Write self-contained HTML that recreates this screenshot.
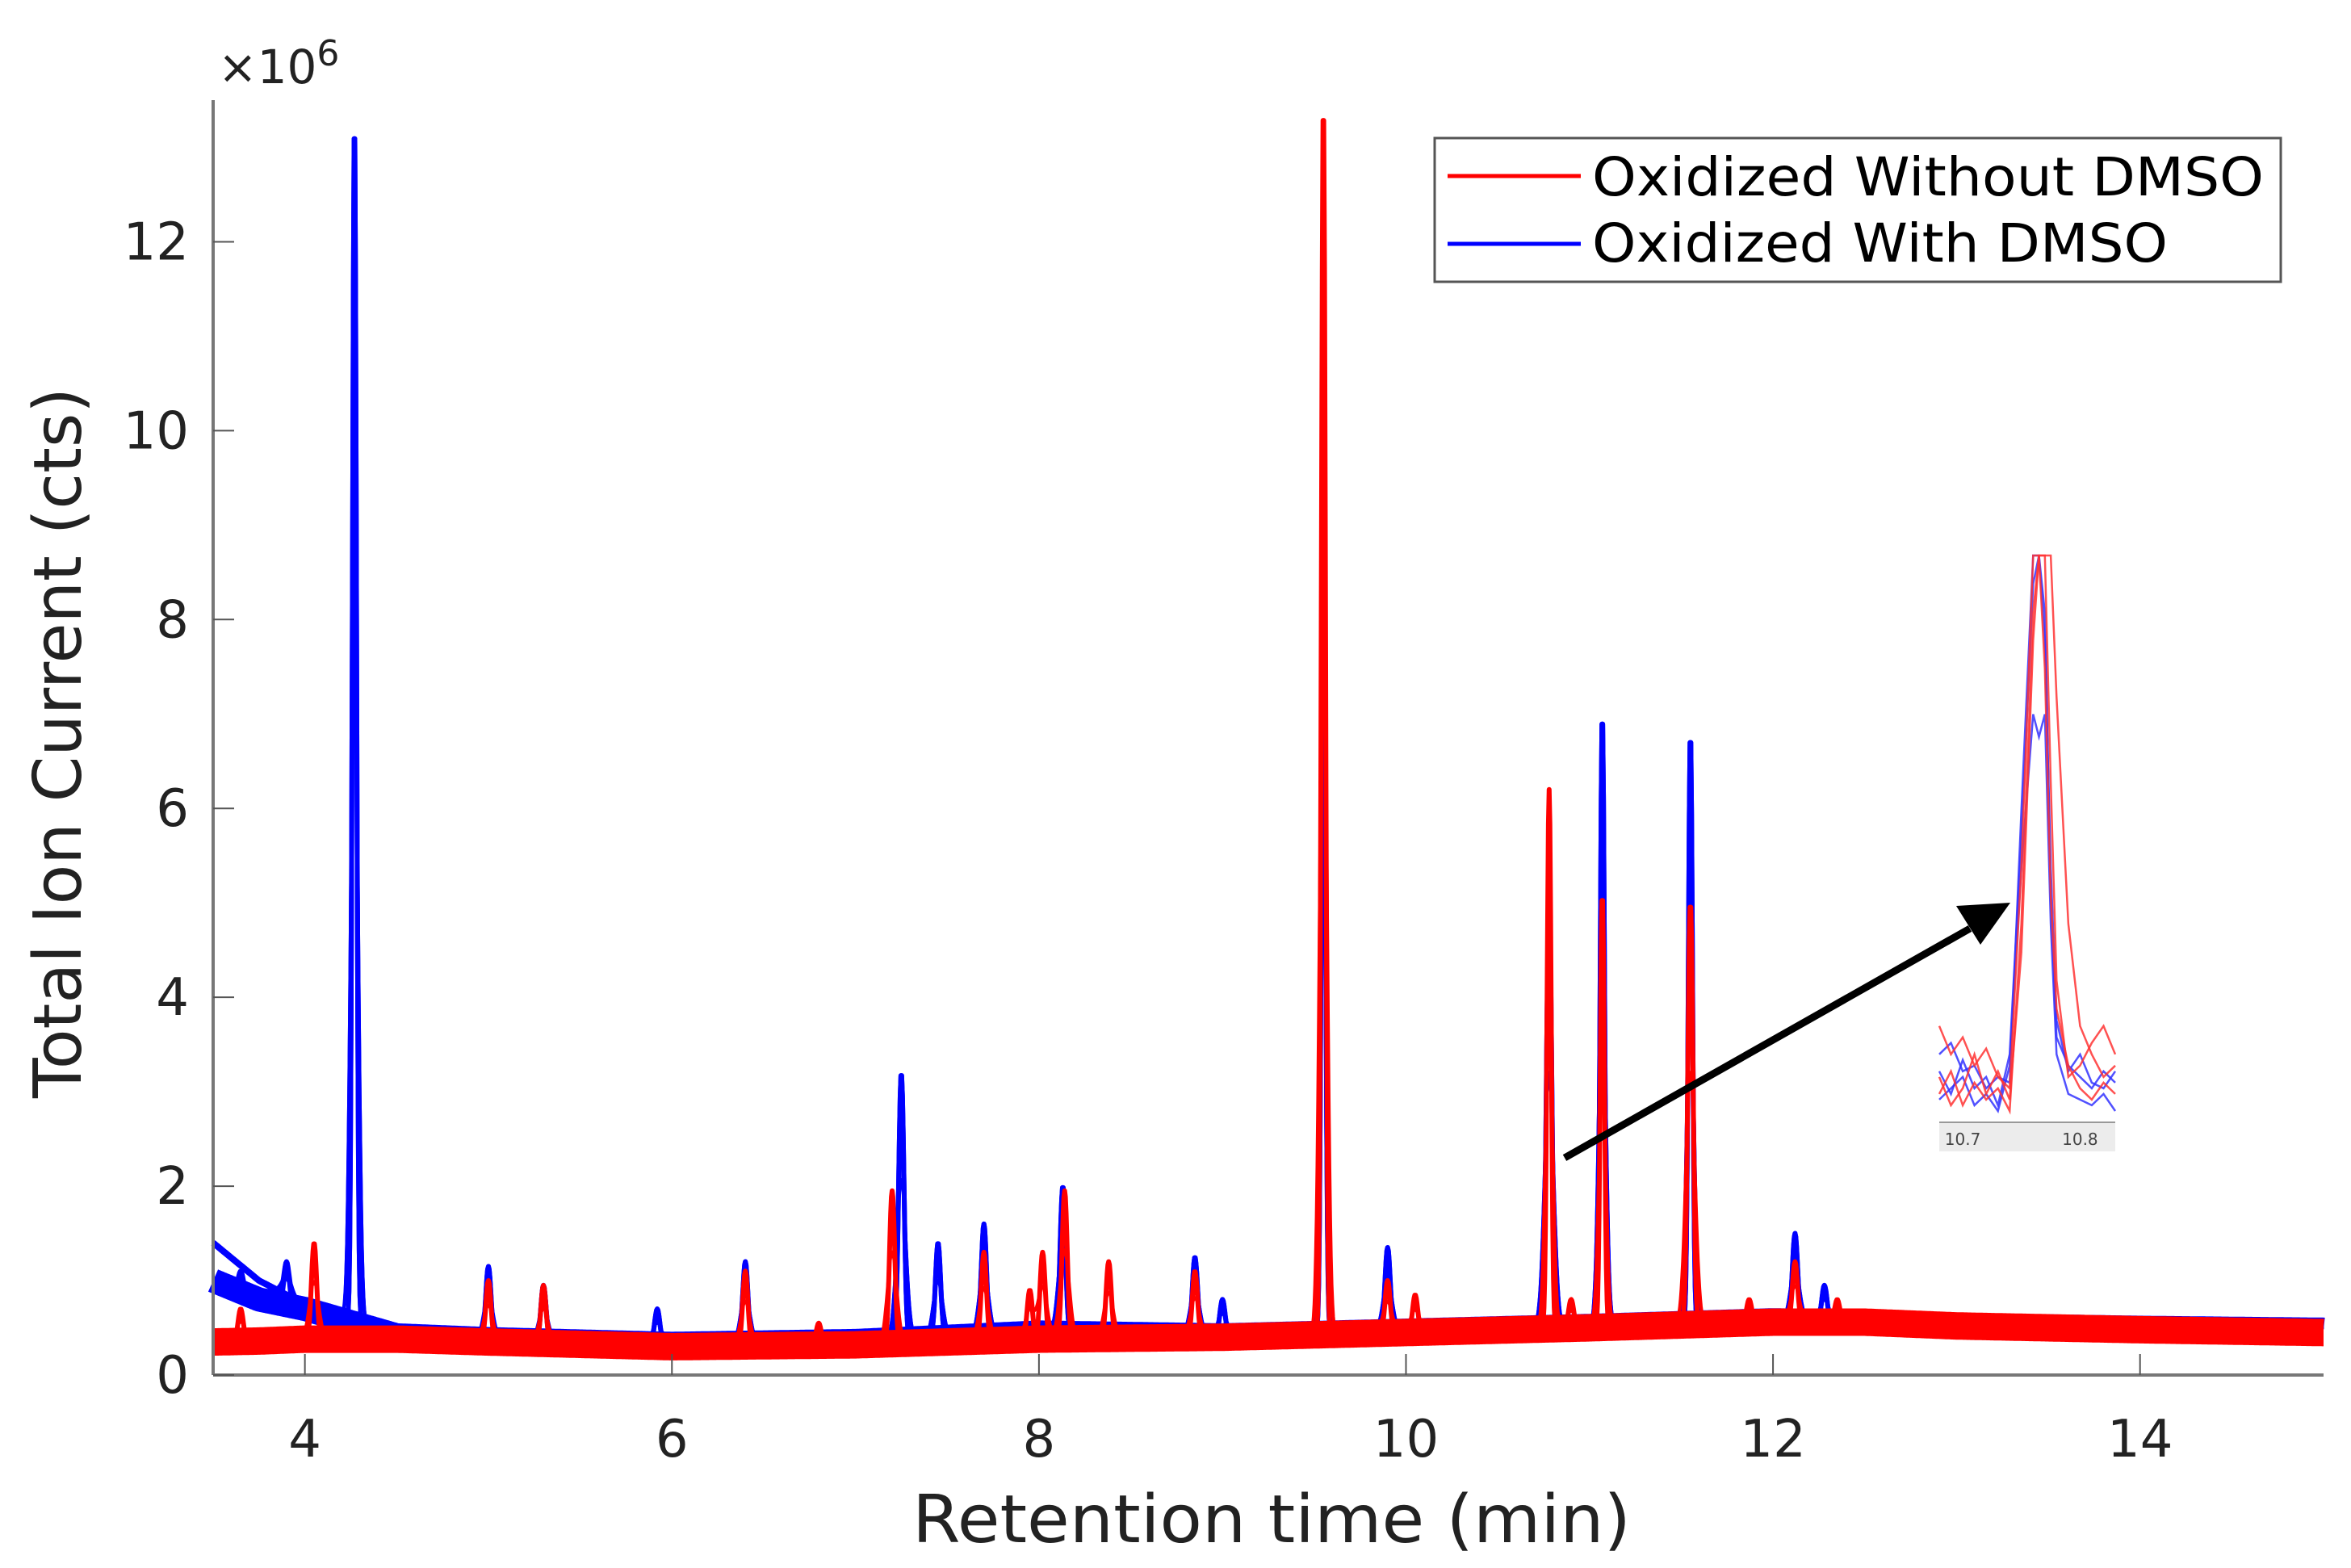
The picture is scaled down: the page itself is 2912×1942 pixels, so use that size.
<!DOCTYPE html>
<html><head><meta charset="utf-8"><title>TIC chromatogram</title>
<style>
html,body{margin:0;padding:0;background:#fff;}
svg{display:block;font-family:"DejaVu Sans","Liberation Sans",sans-serif;}
</style></head>
<body>
<svg id="chart" width="2912" height="1942" viewBox="0 0 2912 1942" xmlns="http://www.w3.org/2000/svg">
<rect width="2912" height="1942" fill="#fff"/>
<g id="plot"></g>
<g id="axes"></g>
<g id="inset"></g>
<g>
  <rect x="1777" y="171" width="1048" height="178" fill="#fff" stroke="#555" stroke-width="3"/>
  <line x1="1793" y1="218" x2="1958" y2="218" stroke="#ff0000" stroke-width="5"/>
  <text x="1972" y="242" font-size="66" textLength="832" lengthAdjust="spacingAndGlyphs" fill="#000">Oxidized Without DMSO</text>
  <line x1="1793" y1="302" x2="1958" y2="302" stroke="#0000ff" stroke-width="5"/>
  <text x="1972" y="324" font-size="66" textLength="713" lengthAdjust="spacingAndGlyphs" fill="#000">Oxidized With DMSO</text>
</g>
<g>
  <line x1="1938" y1="1434" x2="2440" y2="1150" stroke="#000" stroke-width="9"/>
  <polygon points="2490,1118 2423,1122 2453,1170" fill="#000"/>
</g>
</svg>
<script>
// ---------- data (units of 1e6 counts, minutes) ----------
const xTicks = [4, 6, 8, 10, 12, 14];
const yTicks = [0, 2, 4, 6, 8, 10, 12];
const baseTimes = [3.5, 3.75, 4.0, 4.5, 5.0, 6.0, 7.0, 8.0, 9.0, 10.0, 11.0, 12.0, 12.5, 13.0, 14.0, 15.0];
const redBase  = [0.35, 0.36, 0.38, 0.38, 0.35, 0.30, 0.32, 0.38, 0.40, 0.45, 0.50, 0.56, 0.56, 0.52, 0.48, 0.45];
const blueBase = [1.00, 0.80, 0.70, 0.42, 0.38, 0.33, 0.36, 0.45, 0.42, 0.47, 0.52, 0.58, 0.56, 0.53, 0.50, 0.48];
const blueBase2= [1.40, 1.00, 0.75, 0.40, 0.36, 0.33, 0.36, 0.45, 0.42, 0.47, 0.52, 0.58, 0.56, 0.53, 0.50, 0.48];
const redPeakTimes  = [3.65, 4.05, 5.0, 5.3, 6.4, 6.8, 7.2, 7.7, 7.95, 8.02, 8.14, 8.38, 8.85, 9.55, 9.9, 10.05, 10.78, 10.9, 11.07, 11.55, 11.87, 12.12, 12.35];
const redPeakHeights= [0.7, 1.4, 1.0, 0.95, 1.1, 0.55, 1.95, 1.3, 0.9, 1.3, 1.95, 1.2, 1.1, 13.5, 1.0, 0.85, 6.2, 0.8, 5.1, 5.0, 0.8, 1.2, 0.8];
const bluePeakTimes  = [3.65, 3.9, 4.27, 5.0, 5.3, 5.92, 6.4, 7.25, 7.45, 7.7, 8.13, 8.85, 9.0, 9.55, 9.9, 10.78, 11.07, 11.55, 12.12, 12.28];
const bluePeakHeights= [1.1, 1.2, 13.3, 1.15, 0.95, 0.7, 1.2, 3.2, 1.4, 1.6, 2.0, 1.25, 0.8, 8.8, 1.35, 5.0, 7.0, 6.8, 1.5, 0.95];
// inset (zoom of 10.78 peak), relative intensity 0..1 (>1 clipped)
const insetTimes = [10.68, 10.69, 10.70, 10.71, 10.72, 10.73, 10.74, 10.75, 10.76, 10.765, 10.77, 10.775, 10.78, 10.79, 10.80, 10.81, 10.82, 10.83];
const insetRed1  = [0.17, 0.12, 0.15, 0.10, 0.13, 0.08, 0.06, 0.45, 1.30, 1.40, 1.30, 0.60, 0.25, 0.08, 0.10, 0.14, 0.17, 0.12];
const insetRed2  = [0.05, 0.09, 0.03, 0.07, 0.04, 0.06, 0.02, 0.35, 0.90, 1.10, 0.80, 0.40, 0.20, 0.10, 0.06, 0.04, 0.07, 0.05];
const insetRed3  = [0.08, 0.03, 0.06, 0.12, 0.05, 0.09, 0.04, 0.30, 0.85, 1.30, 1.40, 1.30, 0.75, 0.35, 0.17, 0.12, 0.08, 0.10];
const insetBlue1 = [0.12, 0.14, 0.09, 0.10, 0.06, 0.08, 0.07, 0.55, 1.10, 1.30, 0.90, 0.40, 0.15, 0.10, 0.08, 0.06, 0.09, 0.07];
const insetBlue2 = [0.04, 0.06, 0.08, 0.03, 0.05, 0.02, 0.10, 0.45, 0.72, 0.68, 0.72, 0.35, 0.12, 0.05, 0.04, 0.03, 0.05, 0.02];
const insetBlue3 = [0.09, 0.05, 0.11, 0.06, 0.08, 0.03, 0.12, 0.50, 0.95, 1.20, 0.85, 0.45, 0.18, 0.09, 0.12, 0.07, 0.06, 0.09];

// ---------- geometry ----------
const NS = "http://www.w3.org/2000/svg";
const X0 = 264, X1 = 2878, Y0 = 1703, YT = 124;
const xMin = 3.5, xMax = 15, yMin = 0, yMax = 13.5;
function xs(t){ return X0 + (t - xMin) / (xMax - xMin) * (X1 - X0); }
function ys(v){ return Y0 - (v - yMin) / (yMax - yMin) * (Y0 - YT); }
function mk(tag, attrs, parent){ const e = document.createElementNS(NS, tag); for (const k in attrs) e.setAttribute(k, attrs[k]); parent.appendChild(e); return e; }
function interp(t, ts, vs){ for (let i = 1; i < ts.length; i++) if (t <= ts[i]) { const f = (t - ts[i-1]) / (ts[i] - ts[i-1]); return vs[i-1] + f * (vs[i] - vs[i-1]); } return vs[vs.length-1]; }
function signal(t, base, pt, ph, w0){ let b = interp(t, baseTimes, base); let v = b; for (let i = 0; i < pt.length; i++){ const w = (ph[i] > 5 ? 0.011 : 0.014) * w0; const d = (t - pt[i]) / w; if (Math.abs(d) < 6) v += Math.max(0, ph[i] - b) * Math.exp(-d*d/2); } return v; }

const plot = document.getElementById('plot');
function drawSeries(base, pt, ph, color, name, bw){
  let band = "", line = "", wide = "";
  for (let t = xMin; t <= xMax + 1e-9; t += 0.004){
    band += xs(t).toFixed(1) + "," + ys(Math.min(yMax, interp(t, baseTimes, base))).toFixed(1) + " ";
    line += xs(t).toFixed(1) + "," + ys(Math.min(yMax, signal(t, base, pt, ph, 1))).toFixed(1) + " ";
    wide += xs(t).toFixed(1) + "," + ys(Math.min(yMax, signal(t, base, pt, ph, 1.8) * 0.6 + interp(t, baseTimes, base) * 0.4)).toFixed(1) + " ";
  }
  const b = mk('polyline', {points: band, fill: 'none', stroke: color, 'stroke-width': bw, 'stroke-linejoin': 'round'}, plot);
  
  
  const w = mk('polyline', {points: wide, fill: 'none', stroke: color, 'stroke-width': 4, 'stroke-linejoin': 'round'}, plot);
  
  
  const l = mk('polyline', {points: line, fill: 'none', stroke: color, 'stroke-width': 6, 'stroke-linejoin': 'round'}, plot);
  
  
}
drawSeries(blueBase2, bluePeakTimes, bluePeakHeights, '#0000ff', 'with-dmso-2', 8);
drawSeries(blueBase, bluePeakTimes, bluePeakHeights, '#0000ff', 'with-dmso', 30);
drawSeries(redBase, redPeakTimes, redPeakHeights, '#ff0000', 'without-dmso', 34);

// ---------- axes ----------
const ax = document.getElementById('axes');
const yAxis = mk('line', {x1: X0, y1: YT, x2: X0, y2: Y0, stroke: '#777', 'stroke-width': 4}, ax);


const xAxis = mk('line', {x1: X0, y1: Y0, x2: X1, y2: Y0, stroke: '#777', 'stroke-width': 4}, ax);


yTicks.forEach(v => {
  mk('line', {x1: X0, y1: ys(v), x2: X0 + 26, y2: ys(v), stroke: '#555', 'stroke-width': 2}, ax);
  const tx = mk('text', {x: 234, y: ys(v) + 22, 'font-size': 64, 'text-anchor': 'end', fill: '#222'}, ax);
  tx.textContent = v;
  
  
});
xTicks.forEach(v => {
  mk('line', {x1: xs(v), y1: Y0, x2: xs(v), y2: Y0 - 26, stroke: '#555', 'stroke-width': 2}, ax);
  const tx = mk('text', {x: xs(v), y: 1804, 'font-size': 64, 'text-anchor': 'middle', fill: '#222'}, ax);
  tx.textContent = v;
  
  
});
const xl = mk('text', {x: 1575, y: 1910, 'font-size': 82, 'text-anchor': 'middle', fill: '#222', textLength: 890, lengthAdjust: 'spacingAndGlyphs'}, ax);
xl.textContent = 'Retention time (min)';


const yl = mk('text', {x: 0, y: 0, 'font-size': 82, 'text-anchor': 'middle', fill: '#222', transform: 'translate(100,920) rotate(-90)', textLength: 880, lengthAdjust: 'spacingAndGlyphs'}, ax);
yl.textContent = 'Total Ion Current (cts)';


const ex = mk('text', {x: 270, y: 103, 'font-size': 58, fill: '#222'}, ax);
ex.innerHTML = '×10<tspan dy="-22" font-size="44">6</tspan>';



// ---------- inset ----------
const ins = document.getElementById('inset');
const IX0 = 2402, IX1 = 2620, IY0 = 1390, IYT = 688;
const iMin = 10.68, iMax = 10.83;
function ixs(t){ return IX0 + (t - iMin) / (iMax - iMin) * (IX1 - IX0); }
function iys(v){ return IY0 - Math.min(1, v) * (IY0 - IYT); }
const strip = mk('rect', {x: IX0, y: IY0, width: IX1 - IX0, height: 36, fill: '#ececec'}, ins);


mk('line', {x1: IX0, y1: IY0, x2: IX1, y2: IY0, stroke: '#999', 'stroke-width': 2}, ins);
[[insetBlue1,'#3333ff'],[insetBlue2,'#3333ff'],[insetBlue3,'#3333ff'],[insetRed1,'#ff3333'],[insetRed2,'#ff3333'],[insetRed3,'#ff3333']].forEach(([arr,c]) => {
  const pts = insetTimes.map((t,i) => ixs(t).toFixed(1) + ',' + iys(arr[i]).toFixed(1)).join(' ');
  const pl = mk('polyline', {points: pts, fill: 'none', stroke: c, 'stroke-width': 2.5, opacity: 0.85}, ins);
  
  
});
[10.7, 10.8].forEach(v => {
  const t = mk('text', {x: ixs(v), y: 1418, 'font-size': 20, 'text-anchor': 'middle', fill: '#444'}, ins);
  t.textContent = v.toFixed(1);
  
  
});
</script>
</body></html>
